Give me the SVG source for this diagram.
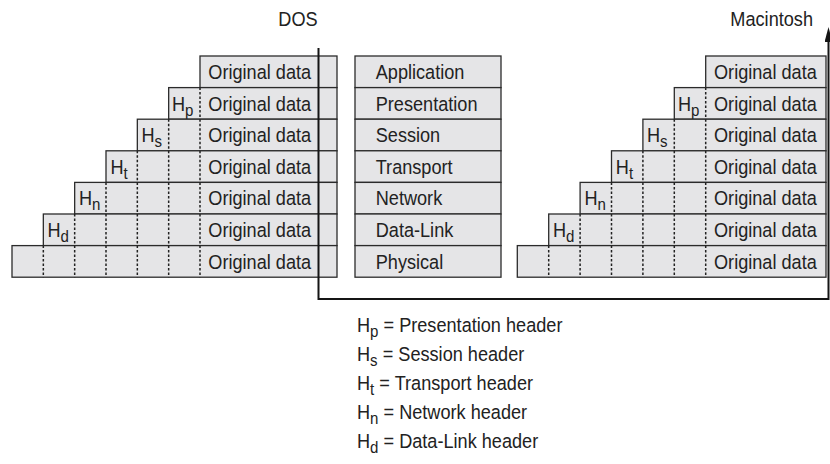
<svg xmlns="http://www.w3.org/2000/svg" width="830" height="464" viewBox="0 0 830 464">
  <style>
    .box { fill: #e5e5e7; stroke: #2b2b2b; stroke-width: 1.3; }
    .dot { fill: none; stroke: #222; stroke-width: 1.5; stroke-dasharray: 2.5 2; }
    .t { font-family: "Liberation Sans", Arial, sans-serif; font-size: 20.5px; fill: #222; }
    .sub { font-size: 17px; }
    .wire { fill: none; stroke: #151515; stroke-width: 2; }
  </style>
  <defs>
    <marker id="arrow" viewBox="0 0 15 8" refX="0" refY="4" markerWidth="15" markerHeight="8" markerUnits="userSpaceOnUse" orient="auto">
      <path d="M0,0 L15,4 L0,8 z" fill="#151515"/>
    </marker>
  </defs>

  <!-- captions (text is set condensed by a horizontal scale) -->
  <text class="t" transform="translate(298 26) scale(.885 1)" text-anchor="middle">DOS</text>
  <text class="t" transform="translate(813 26) scale(.885 1)" text-anchor="end">Macintosh</text>

  <!-- sending side (DOS): data wrapped with headers, layer by layer -->
  <g id="dos-application">
    <rect class="box" x="200" y="56" width="137" height="31.6"/>
    <text class="t" transform="translate(208.3 79) scale(.885 1)">Original data</text>
  </g>
  <g id="dos-presentation">
    <rect class="box" x="168.67" y="87.6" width="168.33" height="31.6"/>
    <path class="dot" d="M200,87.6v31.6"/>
    <text class="t" transform="translate(172 110.6) scale(.885 1)">H<tspan class="sub" dy="5">p</tspan></text>
    <text class="t" transform="translate(208.3 110.6) scale(.885 1)">Original data</text>
  </g>
  <g id="dos-session">
    <rect class="box" x="137.33" y="119.2" width="199.67" height="31.6"/>
    <path class="dot" d="M168.67,119.2v31.6M200,119.2v31.6"/>
    <text class="t" transform="translate(141.5 142.2) scale(.885 1)">H<tspan class="sub" dy="5">s</tspan></text>
    <text class="t" transform="translate(208.3 142.2) scale(.885 1)">Original data</text>
  </g>
  <g id="dos-transport">
    <rect class="box" x="106" y="150.8" width="231" height="31.6"/>
    <path class="dot" d="M137.33,150.8v31.6M168.67,150.8v31.6M200,150.8v31.6"/>
    <text class="t" transform="translate(110.5 173.8) scale(.885 1)">H<tspan class="sub" dy="5">t</tspan></text>
    <text class="t" transform="translate(208.3 173.8) scale(.885 1)">Original data</text>
  </g>
  <g id="dos-network">
    <rect class="box" x="74.67" y="182.4" width="262.33" height="31.6"/>
    <path class="dot" d="M106,182.4v31.6M137.33,182.4v31.6M168.67,182.4v31.6M200,182.4v31.6"/>
    <text class="t" transform="translate(79 205.4) scale(.885 1)">H<tspan class="sub" dy="5">n</tspan></text>
    <text class="t" transform="translate(208.3 205.4) scale(.885 1)">Original data</text>
  </g>
  <g id="dos-datalink">
    <rect class="box" x="43.33" y="214" width="293.67" height="31.6"/>
    <path class="dot" d="M74.67,214v31.6M106,214v31.6M137.33,214v31.6M168.67,214v31.6M200,214v31.6"/>
    <text class="t" transform="translate(47.5 237) scale(.885 1)">H<tspan class="sub" dy="5">d</tspan></text>
    <text class="t" transform="translate(208.3 237) scale(.885 1)">Original data</text>
  </g>
  <g id="dos-physical">
    <rect class="box" x="12" y="245.6" width="325" height="31.6"/>
    <path class="dot" d="M43.33,245.6v31.6M74.67,245.6v31.6M106,245.6v31.6M137.33,245.6v31.6M168.67,245.6v31.6M200,245.6v31.6"/>
    <text class="t" transform="translate(208.3 268.6) scale(.885 1)">Original data</text>
  </g>

  <!-- OSI layer names -->
  <g id="layer-application"><rect class="box" x="355" y="56" width="146" height="31.6"/><text class="t" transform="translate(375.7 79) scale(.885 1)">Application</text></g>
  <g id="layer-presentation"><rect class="box" x="355" y="87.6" width="146" height="31.6"/><text class="t" transform="translate(375.7 110.6) scale(.885 1)">Presentation</text></g>
  <g id="layer-session"><rect class="box" x="355" y="119.2" width="146" height="31.6"/><text class="t" transform="translate(375.7 142.2) scale(.885 1)">Session</text></g>
  <g id="layer-transport"><rect class="box" x="355" y="150.8" width="146" height="31.6"/><text class="t" transform="translate(375.7 173.8) scale(.885 1)">Transport</text></g>
  <g id="layer-network"><rect class="box" x="355" y="182.4" width="146" height="31.6"/><text class="t" transform="translate(375.7 205.4) scale(.885 1)">Network</text></g>
  <g id="layer-datalink"><rect class="box" x="355" y="214" width="146" height="31.6"/><text class="t" transform="translate(375.7 237) scale(.885 1)">Data-Link</text></g>
  <g id="layer-physical"><rect class="box" x="355" y="245.6" width="146" height="31.6"/><text class="t" transform="translate(375.7 268.6) scale(.885 1)">Physical</text></g>

  <!-- receiving side (Macintosh): headers stripped on the way up -->
  <g id="mac-application">
    <rect class="box" x="705.7" y="56" width="120.3" height="31.6"/>
    <text class="t" transform="translate(714 79) scale(.885 1)">Original data</text>
  </g>
  <g id="mac-presentation">
    <rect class="box" x="674.3" y="87.6" width="151.7" height="31.6"/>
    <path class="dot" d="M705.7,87.6v31.6"/>
    <text class="t" transform="translate(678 110.6) scale(.885 1)">H<tspan class="sub" dy="5">p</tspan></text>
    <text class="t" transform="translate(714 110.6) scale(.885 1)">Original data</text>
  </g>
  <g id="mac-session">
    <rect class="box" x="642.9" y="119.2" width="183.1" height="31.6"/>
    <path class="dot" d="M674.3,119.2v31.6M705.7,119.2v31.6"/>
    <text class="t" transform="translate(647 142.2) scale(.885 1)">H<tspan class="sub" dy="5">s</tspan></text>
    <text class="t" transform="translate(714 142.2) scale(.885 1)">Original data</text>
  </g>
  <g id="mac-transport">
    <rect class="box" x="611.5" y="150.8" width="214.5" height="31.6"/>
    <path class="dot" d="M642.9,150.8v31.6M674.3,150.8v31.6M705.7,150.8v31.6"/>
    <text class="t" transform="translate(615.8 173.8) scale(.885 1)">H<tspan class="sub" dy="5">t</tspan></text>
    <text class="t" transform="translate(714 173.8) scale(.885 1)">Original data</text>
  </g>
  <g id="mac-network">
    <rect class="box" x="580.1" y="182.4" width="245.9" height="31.6"/>
    <path class="dot" d="M611.5,182.4v31.6M642.9,182.4v31.6M674.3,182.4v31.6M705.7,182.4v31.6"/>
    <text class="t" transform="translate(584.4 205.4) scale(.885 1)">H<tspan class="sub" dy="5">n</tspan></text>
    <text class="t" transform="translate(714 205.4) scale(.885 1)">Original data</text>
  </g>
  <g id="mac-datalink">
    <rect class="box" x="548.7" y="214" width="277.3" height="31.6"/>
    <path class="dot" d="M580.1,214v31.6M611.5,214v31.6M642.9,214v31.6M674.3,214v31.6M705.7,214v31.6"/>
    <text class="t" transform="translate(553 237) scale(.885 1)">H<tspan class="sub" dy="5">d</tspan></text>
    <text class="t" transform="translate(714 237) scale(.885 1)">Original data</text>
  </g>
  <g id="mac-physical">
    <rect class="box" x="517.3" y="245.6" width="308.7" height="31.6"/>
    <path class="dot" d="M548.7,245.6v31.6M580.1,245.6v31.6M611.5,245.6v31.6M642.9,245.6v31.6M674.3,245.6v31.6M705.7,245.6v31.6"/>
    <text class="t" transform="translate(714 268.6) scale(.885 1)">Original data</text>
  </g>

  <!-- path of the data: down the DOS stack, across the wire, up the Mac stack -->
  <g id="connectors">
    <path class="wire" d="M318.5,48 V299 H828.5 V42" marker-end="url(#arrow)"/>
  </g>

  <!-- key -->
  <g id="legend">
    <text class="t" transform="translate(357 332) scale(.885 1)">H<tspan class="sub" dy="5">p</tspan><tspan dy="-5"> = Presentation header</tspan></text>
    <text class="t" transform="translate(357 361) scale(.885 1)">H<tspan class="sub" dy="5">s</tspan><tspan dy="-5"> = Session header</tspan></text>
    <text class="t" transform="translate(357 390) scale(.885 1)">H<tspan class="sub" dy="5">t</tspan><tspan dy="-5"> = Transport header</tspan></text>
    <text class="t" transform="translate(357 419) scale(.885 1)">H<tspan class="sub" dy="5">n</tspan><tspan dy="-5"> = Network header</tspan></text>
    <text class="t" transform="translate(357 448) scale(.885 1)">H<tspan class="sub" dy="5">d</tspan><tspan dy="-5"> = Data-Link header</tspan></text>
  </g>
</svg>
